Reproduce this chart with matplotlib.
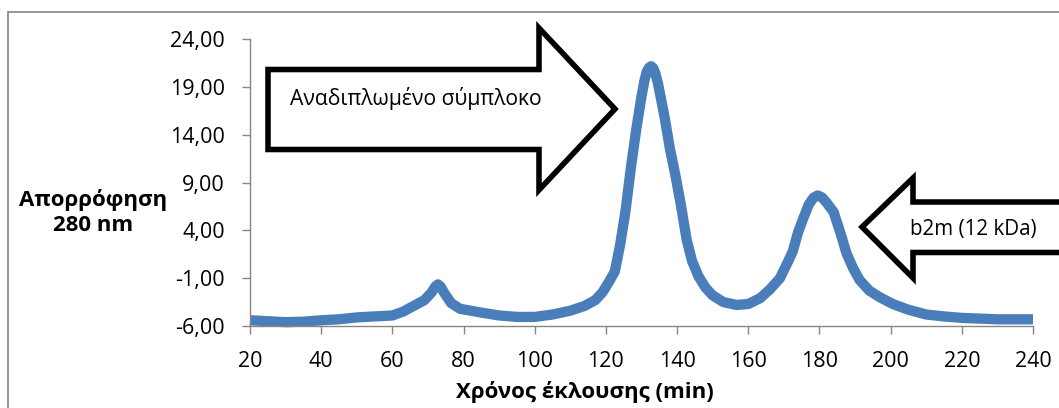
import matplotlib
matplotlib.use("Agg")
import matplotlib.pyplot as plt
from matplotlib.patches import Polygon, Rectangle
from matplotlib.ticker import FixedLocator, FuncFormatter

# Elution profile (absorbance at 280 nm vs elution time)
elution_time = [20, 25, 30, 35, 40, 45, 50, 55, 60, 63, 66, 69, 71, 72.0,
                72.8, 73.6, 74.5, 76.5, 79, 85, 90, 95, 100, 105, 110, 114,
                117, 119, 121, 122.5, 124, 125.5, 127, 128.5, 130, 130.8,
                131.5, 132.1, 132.7, 133.3, 133.9, 134.6, 135.4, 136.5, 138,
                139.5, 141, 142.7, 144.2, 146, 148, 150, 153, 156.7, 160,
                163.3, 166, 168.9, 171, 172.5, 174, 175.5, 177, 178.3, 179.5,
                180.7, 182, 184, 186, 187.6, 189.5, 191.3, 194, 197, 200.6,
                205, 210, 215, 220, 230, 240]
absorbance = [-5.4, -5.5, -5.6, -5.55, -5.4, -5.3, -5.1, -5.0, -4.9, -4.5,
              -3.9, -3.3, -2.5, -1.9, -1.65, -1.9, -2.5, -3.6, -4.2, -4.6,
              -4.9, -5.05, -5.05, -4.8, -4.4, -3.9, -3.3, -2.5, -1.3, -0.3,
              2.5, 6.0, 10.5, 14.5, 18.0, 19.6, 20.6, 21.0, 21.15, 20.95,
              20.4, 19.4, 17.9, 15.8, 12.5, 9.8, 6.8, 3.0, 0.8, -0.8, -2.0,
              -2.8, -3.5, -3.8, -3.7, -3.1, -2.2, -1.0, 0.6, 1.8, 3.8, 5.3,
              6.7, 7.4, 7.65, 7.45, 6.9, 5.9, 3.6, 1.6, 0.0, -1.2, -2.3,
              -3.0, -3.7, -4.3, -4.8, -5.0, -5.15, -5.3, -5.3]

x_ticks = [20, 40, 60, 80, 100, 120, 140, 160, 180, 200, 220, 240]
y_ticks = [-6, -1, 4, 9, 14, 19, 24]

x_label = "Χρόνος έκλουσης (min)"
y_label = "Απορρόφηση\n280 nm"
peak1_label = "Αναδιπλωμένο σύμπλοκο"
peak2_label = "b2m (12 kDa)"

W, H = 1059, 408
plt.rcParams['font.family'] = ['Open Sans', 'DejaVu Sans']

fig = plt.figure(figsize=(W / 100, H / 100), dpi=100)


def fx(px):
    return px / W


def fy(py):
    return 1 - py / H


# Chart area border (only top and left edges fall inside the image)
fig.patches.append(Rectangle((fx(8), fy(1000)), fx(1200), fy(12) - fy(1000),
                             transform=fig.transFigure, fill=False,
                             edgecolor="#8c8c8c", linewidth=1.3))

ax_left, ax_right, ax_top, ax_bottom = 250, 1033, 39, 326
ax = fig.add_axes([fx(ax_left), fy(ax_bottom), fx(ax_right - ax_left),
                   (ax_bottom - ax_top) / H])
ax.patch.set_alpha(0)

ax.plot(elution_time, absorbance, color="#4a7ebb", linewidth=7.4,
        solid_joinstyle="round", solid_capstyle="butt", clip_on=False)

ax.set_xlim(20, 240)
ax.set_ylim(-6, 24)
ax.xaxis.set_major_locator(FixedLocator(x_ticks))
ax.yaxis.set_major_locator(FixedLocator(y_ticks))
ax.yaxis.set_major_formatter(FuncFormatter(lambda v, p: f"{v:.2f}".replace(".", ",")))
ax.xaxis.set_major_formatter(FuncFormatter(lambda v, p: f"{v:.0f}"))

for side in ("top", "right"):
    ax.spines[side].set_visible(False)
for side in ("left", "bottom"):
    ax.spines[side].set_color("#868686")
    ax.spines[side].set_linewidth(1.0)
ax.tick_params(axis="both", direction="out", length=6, width=1.0,
               color="#868686", labelsize=15.5, labelcolor="black", pad=12)

fig.text(fx(93), fy(212), y_label, ha="center", va="center",
         fontsize=16, fontweight="bold", linespacing=1.25)
fig.text(fx(585), fy(392), x_label, ha="center", va="center",
         fontsize=16, fontweight="bold")

# Block arrow pointing right at the main peak
arrow_r = [(268, 69.5), (539, 69.5), (539, 28), (615, 109), (539, 190),
           (539, 149.5), (268, 149.5)]
fig.patches.append(Polygon([(fx(x), fy(y)) for x, y in arrow_r], closed=True,
                           transform=fig.transFigure, facecolor="white",
                           edgecolor="black", linewidth=4.0, joinstyle="miter"))
fig.text(fx(290), fy(99), peak1_label, ha="left", va="center", fontsize=15.2)

# Block arrow pointing left at the second peak
arrow_l = [(1100, 202), (913, 202), (913, 178), (862, 227), (913, 278),
           (913, 252.5), (1100, 252.5)]
fig.patches.append(Polygon([(fx(x), fy(y)) for x, y in arrow_l], closed=True,
                           transform=fig.transFigure, facecolor="white",
                           edgecolor="black", linewidth=4.0, joinstyle="miter"))
fig.text(fx(910), fy(230), peak2_label, ha="left", va="center", fontsize=14.8)

fig.savefig("out.png", dpi=100)
